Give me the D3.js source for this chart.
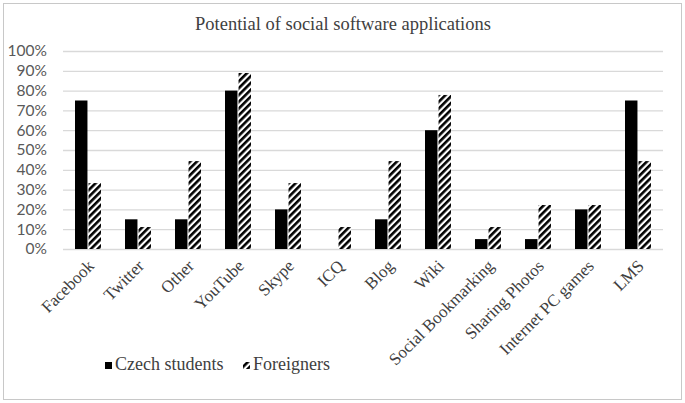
<!DOCTYPE html>
<html>
<head>
<meta charset="utf-8">
<script src="https://cdn.jsdelivr.net/npm/d3@7"></script>
<style>
  body { margin: 0; background: #fff; }
</style>
</head>
<body>
<svg id="chart" width="685" height="403"></svg>
<script>
const categories = ['Facebook', 'Twitter', 'Other', 'YouTube', 'Skype', 'ICQ', 'Blog', 'Wiki',
    'Social Bookmarking', 'Sharing Photos', 'Internet PC games', 'LMS'];
const czech = [75, 15, 15, 80, 20, 0, 15, 60, 5, 5, 20, 75];
const foreigners = [33.3, 11.1, 44.4, 88.9, 33.3, 11.1, 44.4, 77.8, 11.1, 22.2, 22.2, 44.4];
const seriesNames = ['Czech students', 'Foreigners'];
const yTicks = [0, 10, 20, 30, 40, 50, 60, 70, 80, 90, 100];

const svg = d3.select('#chart');
const margin = { top: 51, right: 22, bottom: 154, left: 63 };
const width = +svg.attr('width');
const height = +svg.attr('height');
const chartWidth = width - margin.left - margin.right;
const chartHeight = height - margin.top - margin.bottom;
const serif = 'Liberation Serif, Times New Roman, serif';

// hatch pattern for foreigners
const defs = svg.append('defs');
const pat = defs.append('pattern')
    .attr('id', 'hatch')
    .attr('patternUnits', 'userSpaceOnUse')
    .attr('width', 4.8)
    .attr('height', 4.8)
    .attr('patternTransform', 'rotate(45)');
pat.append('rect').attr('width', 4.8).attr('height', 4.8).attr('fill', '#fff');
pat.append('rect').attr('x', 0).attr('width', 2.6).attr('height', 4.8).attr('fill', '#000');

// outer border
svg.append('rect')
    .attr('x', 3.5).attr('y', 3.5)
    .attr('width', width - 7).attr('height', height - 7)
    .attr('fill', 'none')
    .attr('stroke', '#c8c8c8');

svg.append('text')
    .attr('x', 343)
    .attr('y', 30)
    .attr('text-anchor', 'middle')
    .attr('font-family', serif)
    .attr('font-size', '18.5px')
    .attr('fill', '#404040')
    .text('Potential of social software applications');

const g = svg.append('g')
    .attr('transform', `translate(${margin.left},${margin.top})`);

const x = d3.scaleBand().domain(categories).range([0, chartWidth]);
const xSub = d3.scaleBand().domain(seriesNames).range([x.bandwidth() / 2 - 13, x.bandwidth() / 2 + 13]).paddingInner(0.08);
const y = d3.scaleLinear().domain([0, 100]).range([chartHeight, 0]);

// gridlines
g.append('g')
    .call(d3.axisLeft(y).tickValues(yTicks).tickSize(-chartWidth).tickFormat(''))
    .call(s => s.select('.domain').remove())
    .call(s => s.selectAll('line').attr('stroke', '#d9d9d9').attr('stroke-width', 1.3));

// y labels
g.append('g')
    .call(d3.axisLeft(y).tickValues(yTicks).tickSize(0).tickPadding(16).tickFormat(d => d + '%'))
    .call(s => s.select('.domain').remove())
    .call(s => s.selectAll('text')
        .attr('font-family', 'Lato, Open Sans, sans-serif')
        .attr('font-size', '15.5px')
        .attr('fill', '#595959'));

const data = categories.map((c, i) => ({ cat: c, vals: [czech[i], foreigners[i]] }));

const groups = g.selectAll('.grp').data(data).enter().append('g')
    .attr('class', 'grp')
    .attr('transform', d => `translate(${x(d.cat)},0)`);

groups.selectAll('rect').data(d => d.vals.map((v, k) => ({ key: seriesNames[k], v }))).enter().append('rect')
    .attr('x', d => xSub(d.key))
    .attr('width', xSub.bandwidth())
    .attr('y', d => y(d.v))
    .attr('height', d => chartHeight - y(d.v))
    .attr('fill', d => d.key === 'Czech students' ? '#000' : 'url(#hatch)');

// x labels
g.append('g')
    .attr('transform', `translate(0,${chartHeight})`)
    .call(d3.axisBottom(x).tickSize(0).tickPadding(0))
    .call(s => s.select('.domain').remove())
    .call(s => s.selectAll('text')
        .attr('font-family', serif)
        .attr('font-size', '17px')
        .attr('fill', '#404040')
        .attr('text-anchor', 'end')
        .attr('dy', 0)
        .attr('transform', 'translate(7,18) rotate(-45)'));

// legend
const legend = svg.append('g').attr('transform', 'translate(105,365)');
const items = [
    { name: 'Czech students', fill: '#000', x: 0 },
    { name: 'Foreigners', fill: 'url(#hatch)', x: 138 }
];
const li = legend.selectAll('g').data(items).enter().append('g')
    .attr('transform', d => `translate(${d.x},0)`);
li.append('rect')
    .attr('x', 0).attr('y', -3).attr('width', 7).attr('height', 7)
    .attr('fill', d => d.fill);
li.append('text')
    .attr('x', 10).attr('y', 5)
    .attr('font-family', serif)
    .attr('font-size', '18px')
    .attr('fill', '#404040')
    .text(d => d.name);
</script>
</body>
</html>
